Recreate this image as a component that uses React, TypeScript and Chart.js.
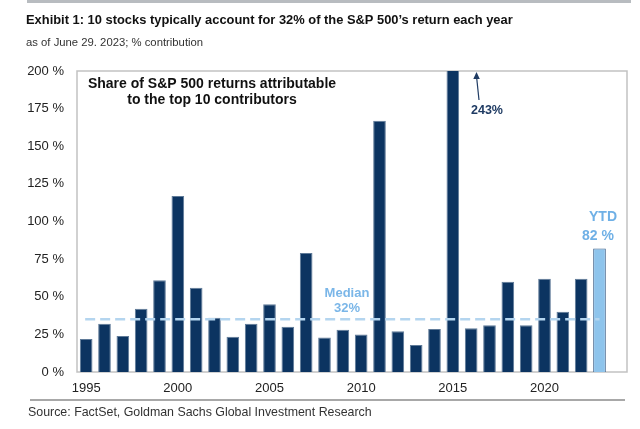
import React, { useEffect, useRef } from "react";
import { Chart, registerables } from "chart.js";

Chart.register(...registerables);

const years = [
  "1995", "1996", "1997", "1998", "1999", "2000", "2001", "2002", "2003", "2004",
  "2005", "2006", "2007", "2008", "2009", "2010", "2011", "2012", "2013", "2014",
  "2015", "2016", "2017", "2018", "2019", "2020", "2021", "2022", "2023",
];
const shares = [
  22, 32, 24, 42, 61, 117, 56, 36, 23.5, 32,
  45, 30, 79, 23, 28, 25, 167, 27, 18, 28.5,
  243, 29, 31, 60, 31, 62, 40, 62, 82,
];
const yTicks = [0, 25, 50, 75, 100, 125, 150, 175, 200];
const tickYears = ["1995", "2000", "2005", "2010", "2015", "2020"];
const medianLine = 35;
const TITLE = "Exhibit 1: 10 stocks typically account for 32% of the S&P 500\u2019s return each year";
const SUBTITLE = "as of June 29. 2023; % contribution";
const SOURCE = "Source: FactSet, Goldman Sachs Global Investment Research";
const BOX_LINES = ["Share of S&P 500 returns attributable", "to the top 10 contributors"];
const PEAK_LABEL = "243%";
const YTD_LINES = ["YTD", "82 %"];
const MEDIAN_LINES = ["Median", "32%"];

const NAVY = "#0c3461";
const LIGHT = "#8ec4ec";
const FONT = "'Liberation Sans', Arial, sans-serif";

const decor = {
  id: "decor",
  beforeDatasetsDraw(chart: any) {
    const { ctx, chartArea: a } = chart;
    ctx.save();
    ctx.strokeStyle = "#c2c2c2";
    ctx.lineWidth = 1.5;
    ctx.strokeRect(a.left, a.top, a.right - a.left, a.bottom - a.top);
    ctx.restore();
  },
  afterDatasetsDraw(chart: any) {
    const { ctx } = chart;
    const x = chart.scales.x;
    const y = chart.scales.y;
    ctx.save();
    // median dashed line
    ctx.strokeStyle = "#b4d5ef";
    ctx.lineWidth = 2.5;
    ctx.setLineDash([10, 5]);
    const my = y.getPixelForValue(medianLine);
    ctx.beginPath();
    ctx.moveTo(x.getPixelForValue(0) - 1, my);
    ctx.lineTo(x.getPixelForValue(years.length - 1), my);
    ctx.stroke();
    ctx.setLineDash([]);

    // top rule
    ctx.fillStyle = "#b8bcc0";
    ctx.fillRect(27, 0, 604, 3);
    // bottom rule
    ctx.fillStyle = "#a8a8a8";
    ctx.fillRect(30, 399, 595, 2);

    ctx.textBaseline = "middle";
    // title
    ctx.fillStyle = "#111";
    ctx.textAlign = "left";
    ctx.font = `bold 12.9px ${FONT}`;
    ctx.fillText(TITLE, 26, 20);
    ctx.fillStyle = "#333";
    ctx.font = `11.3px ${FONT}`;
    ctx.fillText(SUBTITLE, 26, 43);
    ctx.font = `12.4px ${FONT}`;
    ctx.fillText(SOURCE, 28, 413);

    // box annotation
    ctx.textAlign = "center";
    ctx.fillStyle = "#111";
    ctx.font = `bold 14px ${FONT}`;
    ctx.fillText(BOX_LINES[0], 212, 84);
    ctx.fillText(BOX_LINES[1], 212, 100);

    // 243% label + arrow
    ctx.fillStyle = "#1f3b63";
    ctx.font = `bold 12.5px ${FONT}`;
    ctx.fillText(PEAK_LABEL, 487, 111);
    ctx.strokeStyle = "#1f3b63";
    ctx.lineWidth = 1.2;
    ctx.beginPath();
    ctx.moveTo(479, 100);
    ctx.lineTo(476.6, 77);
    ctx.stroke();
    ctx.beginPath();
    ctx.moveTo(476.5, 72);
    ctx.lineTo(473.3, 79);
    ctx.lineTo(479.8, 79);
    ctx.closePath();
    ctx.fill();

    // YTD
    ctx.fillStyle = "#6fb0e6";
    ctx.font = `bold 14px ${FONT}`;
    ctx.fillText(YTD_LINES[0], 603, 217);
    ctx.fillText(YTD_LINES[1], 598, 236);

    // Median
    ctx.fillStyle = "#7ab6e8";
    ctx.font = `bold 13px ${FONT}`;
    ctx.fillText(MEDIAN_LINES[0], 347, 293);
    ctx.fillText(MEDIAN_LINES[1], 347, 308);
    ctx.restore();
  },
};

export default function App() {
  const ref = useRef<HTMLCanvasElement>(null);
  useEffect(() => {
    const labels = [...years, ""];
    const chart = new Chart(ref.current as HTMLCanvasElement, {
      type: "bar",
      data: {
        labels,
        datasets: [
          {
            data: shares,
            backgroundColor: shares.map((_, i) => (i === shares.length - 1 ? LIGHT : NAVY)),
            borderColor: shares.map((_, i) => (i === shares.length - 1 ? "#3d5f88" : "#5f7a98")),
            borderWidth: 1,
            categoryPercentage: 1,
            barPercentage: 0.69,
          },
        ],
      },
      options: {
        responsive: false,
        animation: false,
        layout: { padding: { top: 71, right: 13, left: 0, bottom: 0 } },
        plugins: { legend: { display: false }, tooltip: { enabled: false } },
        scales: {
          x: {
            grid: { display: false, drawTicks: false },
            border: { display: false },
            afterFit: (s: any) => {
              s.height = 57;
            },
            ticks: {
              autoSkip: false,
              maxRotation: 0,
              padding: 9,
              color: "#222",
              font: { family: FONT, size: 13 },
              callback: function (this: any, v: any) {
                const l = this.getLabelForValue(v);
                return tickYears.includes(l) ? l : "";
              },
            },
          },
          y: {
            min: yTicks[0],
            max: yTicks[yTicks.length - 1],
            grid: { display: false, drawTicks: false },
            border: { display: false },
            afterFit: (s: any) => {
              s.width = 77;
            },
            afterBuildTicks: (s: any) => {
              s.ticks = yTicks.map((v) => ({ value: v }));
            },
            ticks: {
              padding: 13,
              color: "#222",
              font: { family: FONT, size: 13 },
              callback: (v: any) => `${v} %`,
            },
          },
        },
      },
      plugins: [decor],
    });
    return () => chart.destroy();
  }, []);
  return (
    <div style={{ position: "absolute", left: 0, top: 0, width: 640, height: 429, background: "#fff" }}>
      <canvas ref={ref} width={640} height={429} />
    </div>
  );
}
